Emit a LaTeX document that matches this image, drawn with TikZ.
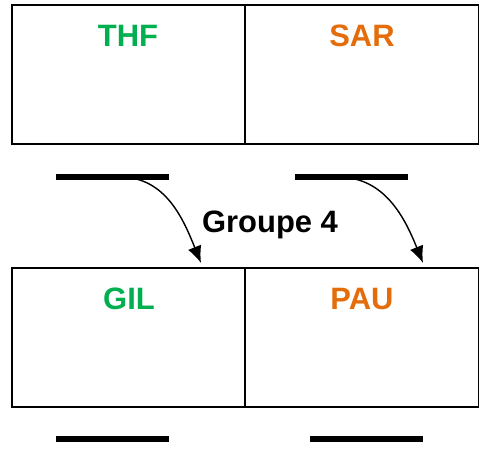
\documentclass[tikz,border=0pt]{standalone}
\usepackage{fontspec}
\setmainfont{Liberation Sans}
\usetikzlibrary{arrows.meta}
\definecolor{grn}{HTML}{00B050}
\definecolor{orng}{HTML}{E46C0A}
\begin{document}
\begin{tikzpicture}[x=0.025cm,y=-0.025cm,
  cell/.style={draw,line width=1.4pt,minimum width=233*0.025cm,minimum height=139*0.025cm,inner sep=0},
  tag/.style={anchor=base,inner sep=0,font=\fontsize{22}{26}\selectfont\bfseries},
  bar/.style={line width=4.2pt},
  move/.style={-{Latex[length=12pt,width=10pt]},line width=1pt}]
\useasboundingbox (0,0) rectangle (483,453);
% cells
\node [cell] (thf) at (128.5,74.5) {};
\node [cell] (sar) at (362,74.5) {};
\node [cell] (gil) at (128.5,337.5) {};
\node [cell] (pau) at (362,337.5) {};
% names
\node [tag,text=grn] (thft) at (128,47) {THF};
\node [tag,text=orng] (sart) at (362,47) {SAR};
\node [tag,text=grn] (gilt) at (129,310) {GIL};
\node [tag,text=orng] (paut) at (362,310) {PAU};
\node [tag] (grp) at (270,233) {Groupe 4};
% bars
\draw [bar] (56,177) -- (169,177);
\draw [bar] (295,177) -- (408,177);
\draw [bar] (56,439) -- (169,439);
\draw [bar] (310,439) -- (423,439);
% arrows
\coordinate (a1) at (120,177);
\coordinate (b1) at (201,263);
\coordinate (a2) at (338,177);
\coordinate (b2) at (423,263);
\draw [move] (a1) to[out=0,in=112] (b1);
\draw [move] (a2) to[out=0,in=112] (b2);
\end{tikzpicture}
\end{document}
